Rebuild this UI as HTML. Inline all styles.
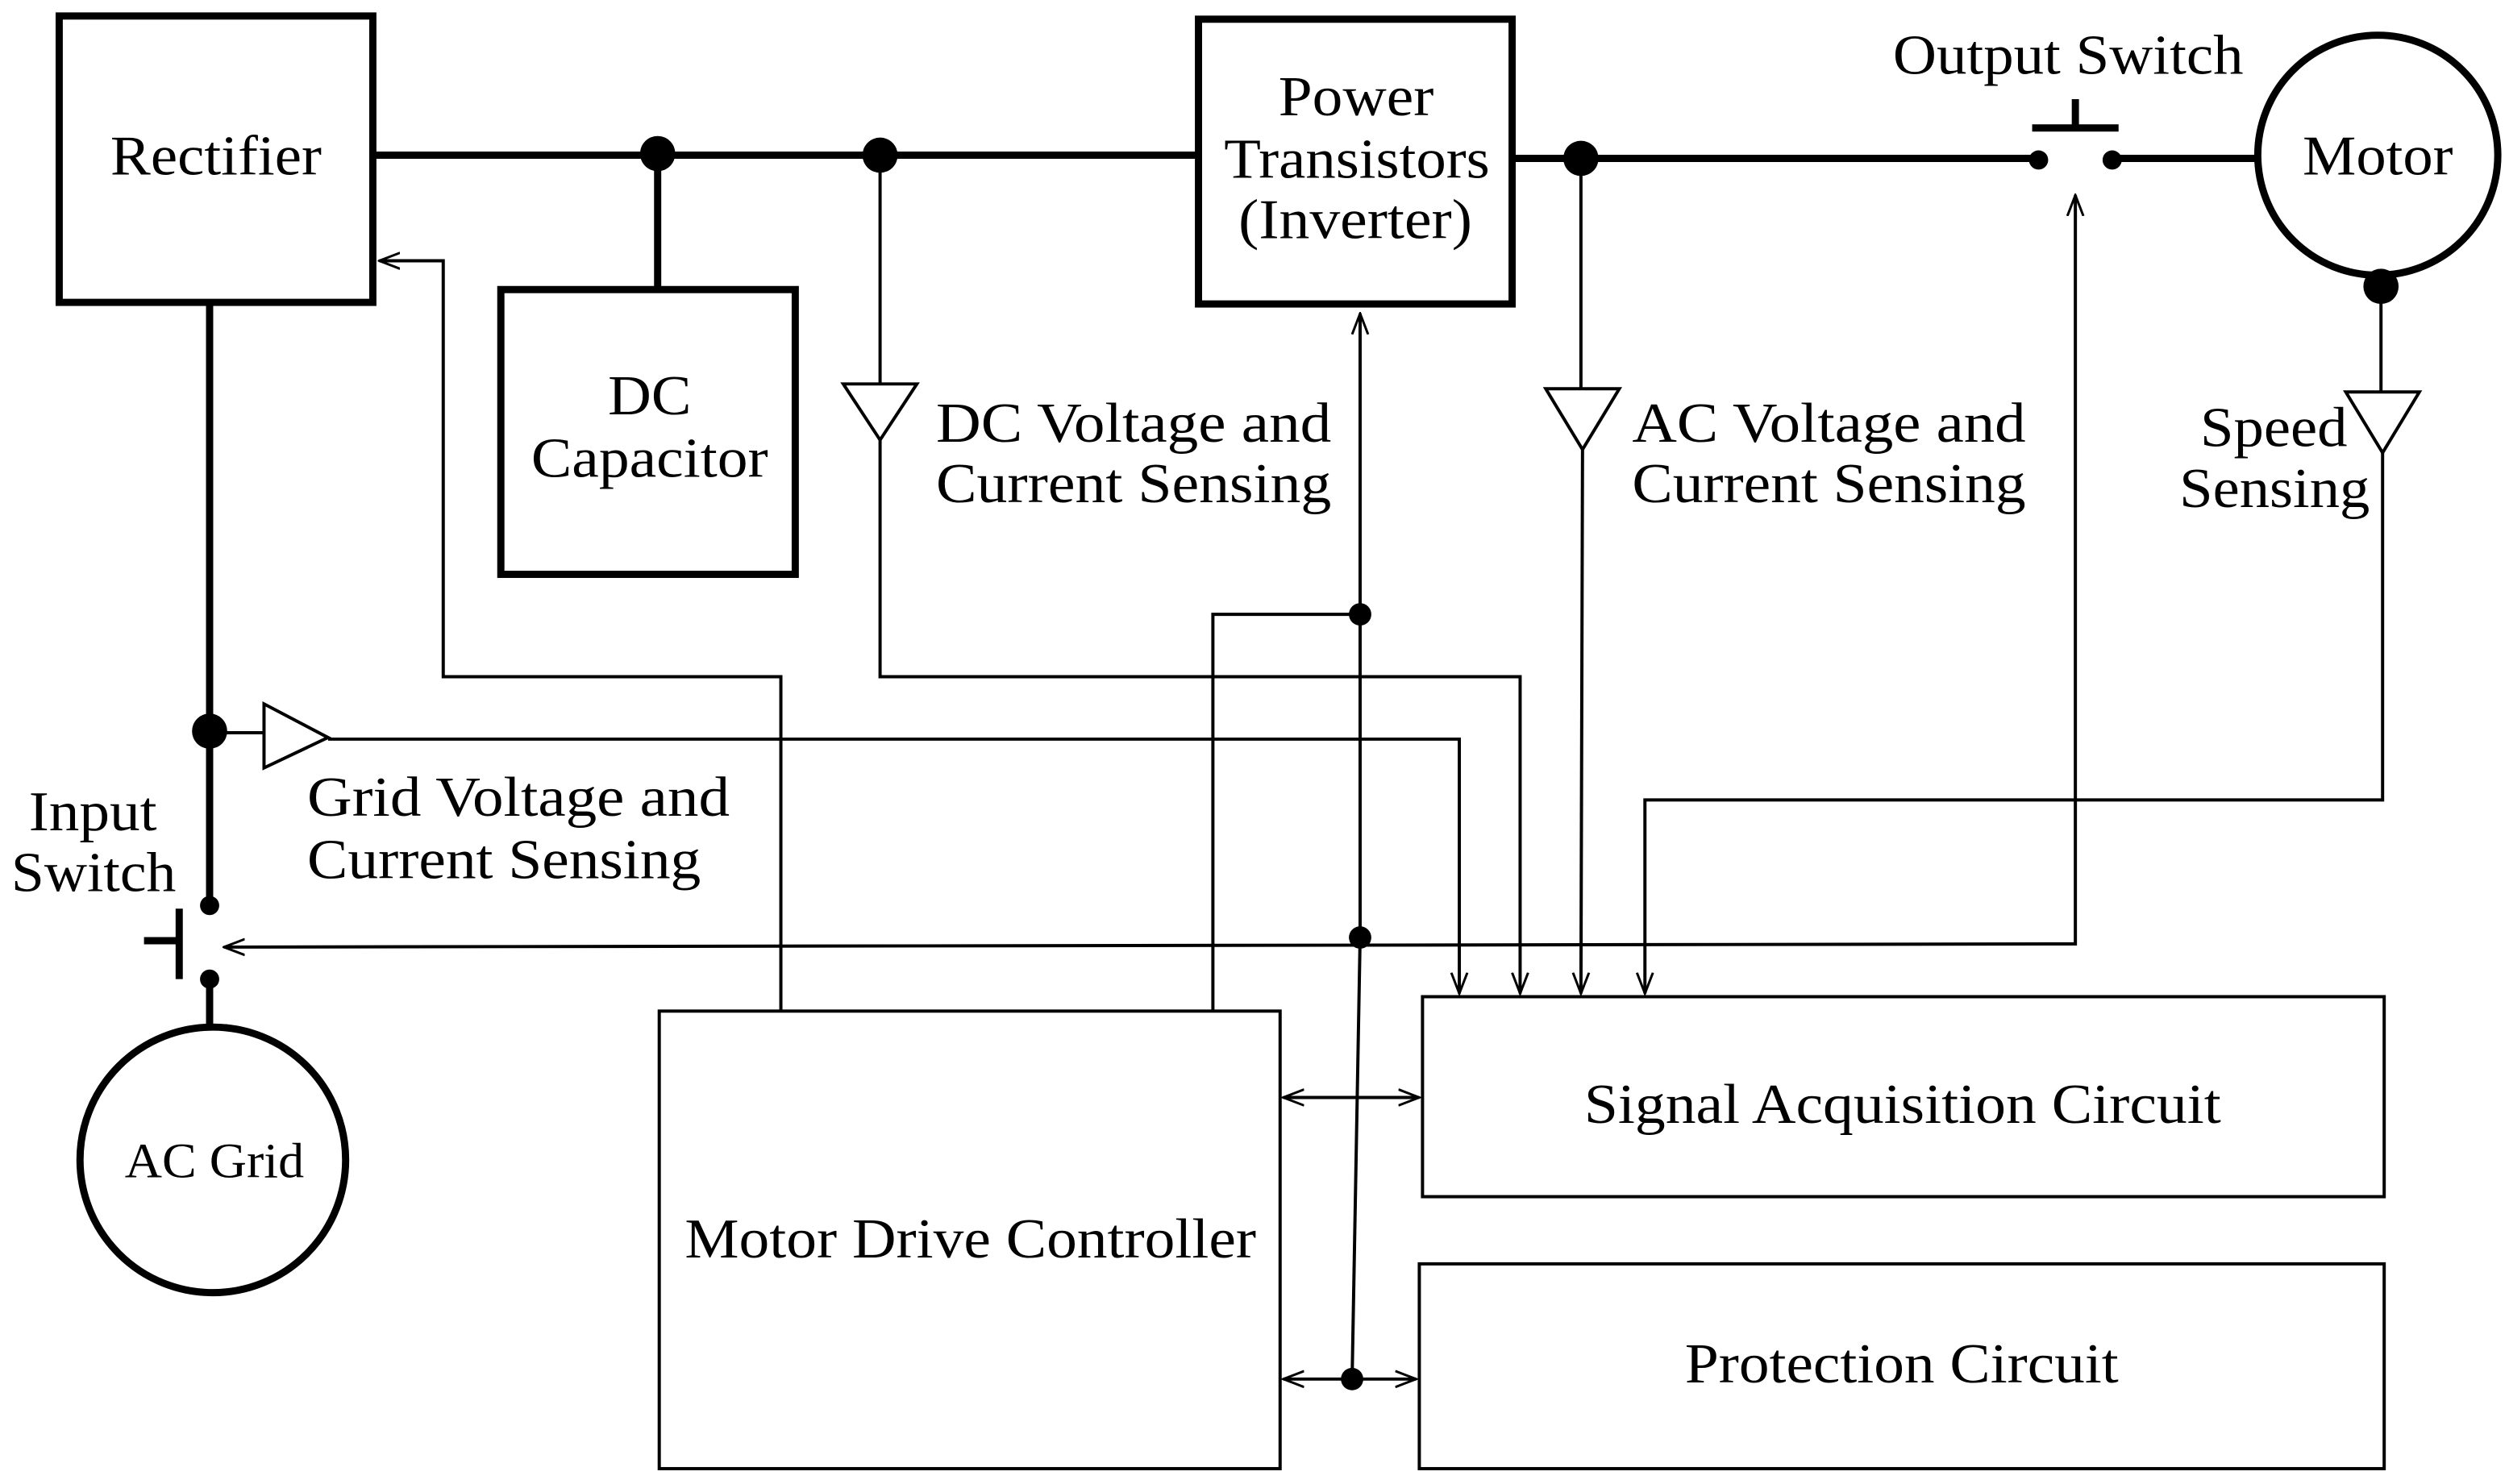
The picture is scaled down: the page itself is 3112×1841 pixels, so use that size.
<!DOCTYPE html>
<html><head><meta charset="utf-8"><style>
html,body{margin:0;padding:0;background:#fff}
svg{display:block}
text{font-family:"Liberation Serif",serif;fill:#000}
</style></head><body>
<svg width="3112" height="1841" viewBox="0 0 1568 927.6" preserveAspectRatio="none" xmlns="http://www.w3.org/2000/svg">
<defs>
<marker id="a" markerWidth="14" markerHeight="12" refX="13" refY="6" orient="auto" markerUnits="userSpaceOnUse">
<path d="M0,1 L13,6 L0,11" fill="none" stroke="#000" stroke-width="1.5"/>
</marker>
<marker id="s" markerWidth="14" markerHeight="12" refX="1" refY="6" orient="auto" markerUnits="userSpaceOnUse">
<path d="M14,1 L1,6 L14,11" fill="none" stroke="#000" stroke-width="1.5"/>
</marker>
</defs>
<g fill="none" stroke="#000">
<g stroke-width="4.5">
<rect x="37" y="10" width="196" height="179"/>
<rect x="313" y="181" width="184" height="178"/>
<rect x="749" y="12" width="196" height="178"/>
<circle cx="1486" cy="97" r="75"/>
<circle cx="133" cy="725" r="83"/>
<line x1="233" y1="97" x2="749" y2="97"/>
<line x1="411" y1="97" x2="411" y2="181"/>
<line x1="945" y1="99" x2="1270" y2="99"/>
<line x1="1324" y1="99" x2="1411" y2="99"/>
<line x1="1270" y1="80" x2="1324" y2="80"/>
<line x1="1297" y1="62" x2="1297" y2="80"/>
<line x1="131" y1="189" x2="131" y2="562"/>
<line x1="131" y1="614" x2="131" y2="643"/>
<line x1="112" y1="568" x2="112" y2="612"/>
<line x1="90" y1="588" x2="112" y2="588"/>
</g>
<g stroke-width="2">
<rect x="412" y="632" width="388" height="286"/>
<rect x="889" y="623" width="601" height="125"/>
<rect x="887" y="790" width="603" height="128"/>
<line x1="550" y1="97" x2="550" y2="240"/>
<path d="M527,240 L573,240 L550,275 Z"/>
<polyline points="550,275 550,423 950,423 950,621" marker-end="url(#a)"/>
<line x1="988" y1="99" x2="988" y2="243"/>
<path d="M966,243 L1012,243 L989,281 Z"/>
<polyline points="989,281 988,621" marker-end="url(#a)"/>
<line x1="1488" y1="179" x2="1488" y2="245"/>
<path d="M1466,245 L1512,245 L1489,283 Z"/>
<polyline points="1489,283 1489,500 1028,500 1028,621" marker-end="url(#a)"/>
<line x1="131" y1="458" x2="165" y2="458"/>
<path d="M165,440 L165,480 L205,461 Z"/>
<polyline points="205,462 912,462 912,621" marker-end="url(#a)"/>
<polyline points="1297,122 1297,590 140,592" marker-start="url(#s)" marker-end="url(#a)"/>
<polyline points="488,632 488,423 277,423 277,163 237,163" marker-end="url(#a)"/>
<polyline points="758,632 758,384 850,384"/>
<line x1="850" y1="586" x2="850" y2="196" marker-end="url(#a)"/>
<line x1="850" y1="586" x2="845" y2="862"/>
<line x1="802" y1="686" x2="887" y2="686" marker-start="url(#s)" marker-end="url(#a)"/>
<line x1="802" y1="862" x2="885" y2="862" marker-start="url(#s)" marker-end="url(#a)"/>
</g>
</g>
<g fill="#000">
<circle cx="411" cy="96" r="11"/>
<circle cx="550" cy="97" r="11"/>
<circle cx="988" cy="99" r="11"/>
<circle cx="1488" cy="179" r="11"/>
<circle cx="131" cy="457" r="11"/>
<circle cx="1274" cy="100" r="6"/>
<circle cx="1320" cy="100" r="6"/>
<circle cx="131" cy="566" r="6"/>
<circle cx="131" cy="612" r="6"/>
<circle cx="850" cy="384" r="7"/>
<circle cx="850" cy="586" r="7"/>
<circle cx="845" cy="862" r="7"/>
</g>
<g font-size="35" lengthAdjust="spacingAndGlyphs">
<text x="69" y="109" textLength="132" lengthAdjust="spacingAndGlyphs">Rectifier</text>
<text x="380" y="259" textLength="52" lengthAdjust="spacingAndGlyphs">DC</text>
<text x="332" y="298" textLength="148" lengthAdjust="spacingAndGlyphs">Capacitor</text>
<text x="799" y="72" textLength="97" lengthAdjust="spacingAndGlyphs">Power</text>
<text x="765" y="111" textLength="166" lengthAdjust="spacingAndGlyphs">Transistors</text>
<text x="774" y="149" textLength="146" lengthAdjust="spacingAndGlyphs">(Inverter)</text>
<text x="1183" y="46" textLength="219" lengthAdjust="spacingAndGlyphs">Output Switch</text>
<text x="1439" y="109" textLength="94" lengthAdjust="spacingAndGlyphs">Motor</text>
<text x="585" y="276" textLength="247" lengthAdjust="spacingAndGlyphs">DC Voltage and</text>
<text x="585" y="314" textLength="247" lengthAdjust="spacingAndGlyphs">Current Sensing</text>
<text x="1020" y="276" textLength="246" lengthAdjust="spacingAndGlyphs">AC Voltage and</text>
<text x="1020" y="314" textLength="246" lengthAdjust="spacingAndGlyphs">Current Sensing</text>
<text x="1375" y="279" textLength="92" lengthAdjust="spacingAndGlyphs">Speed</text>
<text x="1362" y="317" textLength="119" lengthAdjust="spacingAndGlyphs">Sensing</text>
<text x="192" y="510" textLength="264" lengthAdjust="spacingAndGlyphs">Grid Voltage and</text>
<text x="192" y="549" textLength="246" lengthAdjust="spacingAndGlyphs">Current Sensing</text>
<text x="18" y="519" textLength="80" lengthAdjust="spacingAndGlyphs">Input</text>
<text x="7" y="557" textLength="103" lengthAdjust="spacingAndGlyphs">Switch</text>
<text x="990" y="702" textLength="398" lengthAdjust="spacingAndGlyphs">Signal Acquisition Circuit</text>
<text x="1053" y="864" textLength="271" lengthAdjust="spacingAndGlyphs">Protection Circuit</text>
<text x="428" y="786" textLength="357" lengthAdjust="spacingAndGlyphs">Motor Drive Controller</text>
</g>
<text x="78" y="736" font-size="31" textLength="112" lengthAdjust="spacingAndGlyphs">AC Grid</text>
</svg>
</body></html>
